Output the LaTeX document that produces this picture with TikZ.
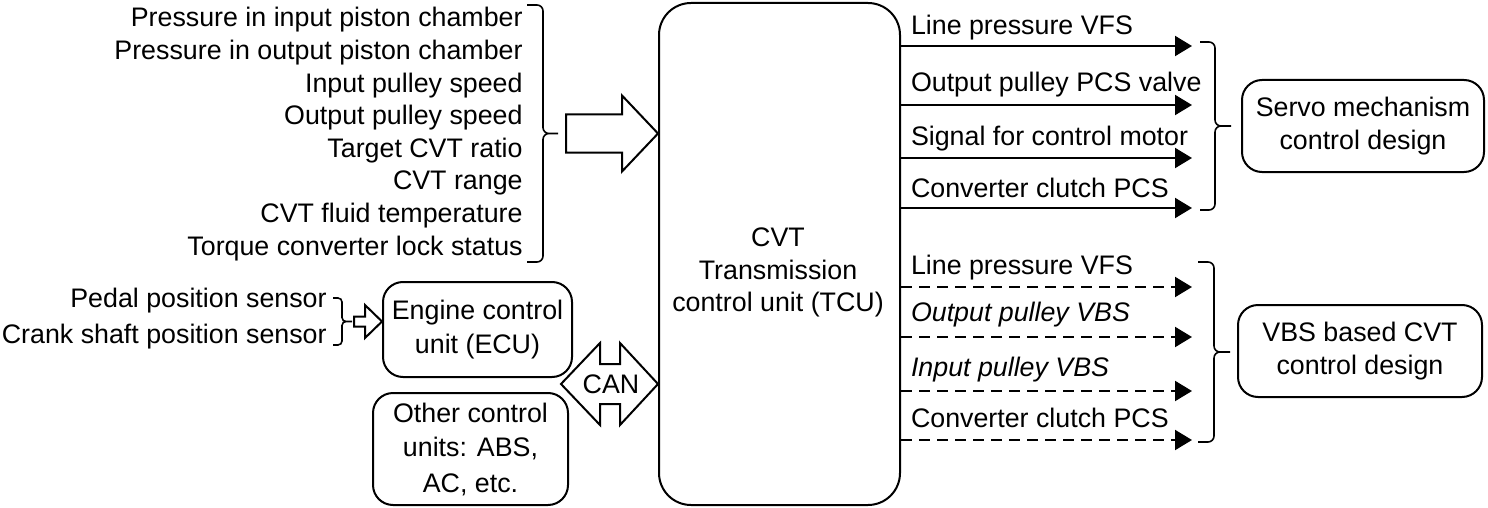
\documentclass[tikz,border=0pt]{standalone}
\usepackage{fontspec}
\setmainfont{Liberation Sans}
\usetikzlibrary{arrows.meta, positioning, calc}

\begin{document}
\begin{tikzpicture}[
  x=0.5pt, y=-0.5pt,
  font=\fontsize{13.4pt}{16.3pt}\selectfont,
  unit/.style={draw, line width=1pt, rounded corners=10pt, align=center,
               inner sep=0pt},
  txt/.style={align=right, inner sep=0pt},
  lbl/.style={inner sep=0pt, anchor=base west, pos=0, xshift=4.5pt},
  sig/.style={line width=1pt, -{Triangle[length=8.5pt, width=10pt]}},
  vbs/.style={sig, dash pattern=on 5.5pt off 3.5pt},
  brk/.style={line width=0.8pt, rounded corners=3pt},
  hollow/.style={draw, line width=1pt, line join=miter}
]
\useasboundingbox (0,0) rectangle (1488,508);

% ---- central unit ----
\node[unit, rounded corners=16pt, minimum width=120.5pt, minimum height=251pt]
  (tcu) at (779.5,254) {};
\node[txt, align=center] (tcutxt) at ($(tcu.center)+(-1.5,18.5)$)
  {CVT\\Transmission\\control unit (TCU)};

% ---- measured inputs ----
\node[txt, anchor=east] (inlist) at (523,134)
  {Pressure in input piston chamber\\Pressure in output piston chamber\\
   Input pulley speed\\Output pulley speed\\Target CVT ratio\\CVT range\\
   CVT fluid temperature\\Torque converter lock status};
\coordinate (inbr) at (558,133.5);
\draw[brk] (527,5) -| (543,133.5) -- (inbr) (527,262) -| (543,133.5) -- (inbr);
\draw[hollow] (tcu.west |- inbr) -- ++(-36,-38) -- ++(0,19) -- ++(-56,0)
  -- ++(0,38) -- ++(56,0) -- ++(0,19) -- cycle;

% ---- engine side ----
\node[txt, anchor=east, font=\fontsize{13.4pt}{18pt}\selectfont] (sens) at (327,319)
  {Pedal position sensor\\Crank shaft position sensor};
\node[unit, minimum width=94.5pt, minimum height=47.5pt,
      font=\fontsize{13.4pt}{17pt}\selectfont] (ecu) at (477.5,329.5)
  {Engine control\\unit (ECU)};
\coordinate (sbr) at (352,321.5);
\draw[brk, rounded corners=2pt] (333,298) -| (342,321.5) -- (sbr)
  (333,345) -| (342,321.5) -- (sbr);
\draw[hollow] (ecu.west |- sbr) -- ++(-17,-16.5) -- ++(0,11.5) -- ++(-11,0)
  -- ++(0,10) -- ++(11,0) -- ++(0,11.5) -- cycle;
\node[unit, minimum width=97.5pt, minimum height=56pt,
      font=\fontsize{13.4pt}{17.5pt}\selectfont] (other) at (470.5,449)
  {Other control\\units: ABS,\\AC, etc.};

% ---- CAN bus ----
\node[inner sep=0pt] (can) at (611,384) {CAN};
\draw[hollow] (tcu.west |- can) -- ++(-38,-41) -- ++(0,21) -- ++(-20,0)
  -- ++(0,-21) -- ++(-39,41) -- ++(39,41) -- ++(0,-21) -- ++(20,0)
  -- ++(0,21) -- cycle;

% ---- servo outputs ----
\coordinate (o1) at (1192,46);
\coordinate (o2) at (1192,105);
\coordinate (o3) at (1192,158);
\coordinate (o4) at (1192,208);
\draw[sig] (tcu.east |- o1) -- (o1) node[lbl, yshift=5.5pt] {Line pressure VFS};
\draw[sig] (tcu.east |- o2) -- (o2) node[lbl, yshift=6.5pt] {Output pulley PCS valve};
\draw[sig] (tcu.east |- o3) -- (o3) node[lbl, yshift=6pt] {Signal for control motor};
\draw[sig] (tcu.east |- o4) -- (o4) node[lbl, yshift=5pt] {Converter clutch PCS};
\node[unit, minimum width=121pt, minimum height=46pt] (servo) at (1363,126)
  {Servo mechanism\\control design};
\coordinate (sbr2) at (1231,126);
\draw[brk] (1200,42) -| (1215,126) -- (sbr2) (1200,210) -| (1215,126) -- (sbr2);

% ---- VBS outputs ----
\coordinate (v1) at (1192,287);
\coordinate (v2) at (1192,337);
\coordinate (v3) at (1192,391);
\coordinate (v4) at (1192,440);
\draw[vbs] (tcu.east |- v1) -- (v1) node[lbl, yshift=6.5pt] {Line pressure VFS};
\draw[vbs] (tcu.east |- v2) -- (v2) node[lbl, yshift=8pt] {\textit{Output pulley VBS}};
\draw[vbs] (tcu.east |- v3) -- (v3) node[lbl, yshift=7.5pt] {\textit{Input pulley VBS}};
\draw[vbs] (tcu.east |- v4) -- (v4) node[lbl, yshift=6.5pt] {Converter clutch PCS};
\node[unit, minimum width=122pt, minimum height=46pt] (vbsbox) at (1360,351)
  {VBS based CVT\\control design};
\coordinate (vbr) at (1230,352);
\draw[brk] (1198,262) -| (1214,352) -- (vbr) (1198,442) -| (1214,352) -- (vbr);

\end{tikzpicture}
\end{document}
